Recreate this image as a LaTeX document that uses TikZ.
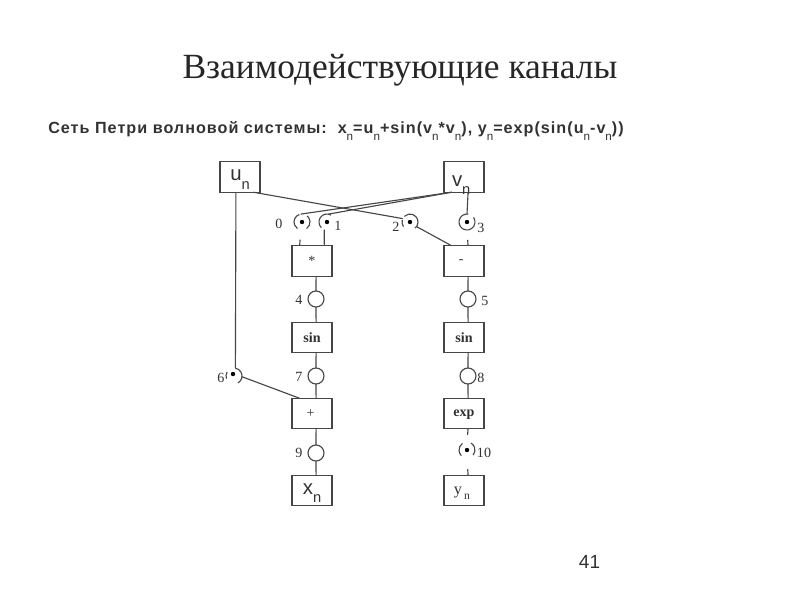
\documentclass[tikz,border=0pt]{standalone}
\usepackage{fontspec}
\setmainfont{Liberation Serif}
\setsansfont{Liberation Sans}
\newfontfamily\headfont[LetterSpace=6.2]{Liberation Sans}
\usetikzlibrary{positioning}
\newcommand{\subn}[1]{#1\raisebox{-.45em}{\scalebox{.72}{\mdseries n}}}
\newcommand{\boxsub}[3]{\raisebox{#1}[0pt][0pt]{#3\raisebox{#2}{\scalebox{.72}{n}}}}
\definecolor{netline}{RGB}{70,70,70}
\definecolor{nettext}{RGB}{50,50,50}
\begin{document}
\begin{tikzpicture}[
    x=0.025cm,
    y=0.025cm,
    box/.style={
        draw=netline,
        line width=0.8pt,
        fill=white,
        inner sep=0pt,
        outer sep=0pt,
        text=nettext,
        font=\fontsize{10}{11}\selectfont,
        minimum width=1cm,
        minimum height=0.76cm
    },
    sansbox/.style={
        box,
        font=\fontsize{14.5}{17}\sffamily
    },
    opbox/.style={
        box,
        font=\fontsize{10}{11}\selectfont\bfseries
    },
    place/.style={
        draw=netline,
        line width=0.8pt,
        circle,
        inner sep=0pt,
        outer sep=0pt,
        minimum size=0.4cm
    },
    marked/.style={
        place,
        draw=none
    },
    token/.style={
        circle,
        fill=black,
        inner sep=0pt,
        minimum size=0.11cm
    },
    num/.style={
        text=nettext,
        inner sep=0pt,
        font=\fontsize{10}{11}\selectfont
    },
    wire/.style={
        draw=netline,
        line width=0.8pt
    }
]
\useasboundingbox (0,0) rectangle (800,-600);

% HEADINGS
\node[font=\fontsize{25.2}{30}\selectfont, text=black!85] (title) at (400,-70)
{Взаимодействующие каналы};

\node[font=\fontsize{11.5}{14}\headfont\bfseries, text=nettext, anchor=west, inner sep=0pt] (formula) at (48,-131)
{Сеть Петри волновой системы:\ \ \subn{x}=\subn{u}+sin(\subn{v}*\subn{v}), \subn{y}=exp(sin(\subn{u}-\subn{v}))};

\node[font=\fontsize{13.5}{16}\sffamily, text=nettext] (page) at (589.5,-561.5)
{41};

% INPUTS
\node[sansbox] (un) at (240,-177) {\boxsub{-2.8pt}{-6pt}{u}};
\node[sansbox] (vn) at (464,-177) {\hspace{-4pt}\boxsub{-7pt}{-5.5pt}{v}};

% LEFT COLUMN
\node[box] (mul) at (312,-261) {*};
\node[opbox] (sinl) at (312,-337.5) {sin};
\node[box] (add) at (312,-413.5) {\hspace{-2pt}+};
\node[sansbox] (xn) at (312,-490.5) {\boxsub{-2.5pt}{-6pt}{x}};

% RIGHT COLUMN
\node[box] (minus) at (464,-261) {\raisebox{-3pt}{\hspace{-4pt}-}};
\node[opbox] (sinr) at (464,-337.5) {sin};
\node[opbox] (exp) at (464,-413.5) {\raisebox{-6pt}{exp}};
\node[box, font=\fontsize{11.5}{13}\selectfont] (yn) at (464,-490.5) {\hspace{-3pt}\boxsub{-3pt}{-3.5pt}{y\hspace{1.5pt}}};

% PLACES
\node[marked] (p0) at (302,-222) {};
\node[marked] (p1) at (327,-222) {};
\node[marked] (p2) at (410,-222) {};
\node[marked] (p3) at (467,-222) {};
\node[place] (p4) at (316,-299) {};
\node[place] (p5) at (468,-299) {};
\node[marked] (p6) at (234,-376) {};
\node[place] (p7) at (316,-376) {};
\node[place] (p8) at (468,-376) {};
\node[place] (p9) at (316,-453) {};
\node[marked] (p10) at (467,-450) {};

% TOKENS
\node[token] (t0) at (p0) {};
\node[token] (t1) at (p1) {};
\node[token] (t2) at (p2) {};
\node[token] (t3) at (p3) {};
\node[token] (t6) at (233,-374) {};
\node[token] (t10) at (p10) {};

% BROKEN RIMS OF THE MARKED PLACES
\draw[wire] (p0.110) arc[start angle=110, end angle=235, radius=8];
\draw[wire] (p0.-55) arc[start angle=-55, end angle=50, radius=8];
\draw[wire] (p1.60) arc[start angle=60, end angle=225, radius=8];
\draw[wire] (p2.-50) arc[start angle=-50, end angle=135, radius=8];
\draw[wire] (p2.165) arc[start angle=165, end angle=215, radius=8];
\draw[wire] (p3.80) arc[start angle=80, end angle=395, radius=8];
\draw[wire] (p6.-60) arc[start angle=-60, end angle=80, radius=8];
\draw[wire] (p6.150) arc[start angle=150, end angle=200, radius=8];
\draw[wire] (p10.125) arc[start angle=125, end angle=225, radius=8];
\draw[wire] (p10.-40) arc[start angle=-40, end angle=60, radius=8];

% LABELS
\node[num] (l0) at (279,-224) {0};
\node[num] (l1) at (338,-226) {1};
\node[num] (l2) at (396,-227) {2};
\node[num] (l3) at (481,-228) {3};
\node[num] (l4) at (299,-300) {4};
\node[num] (l5) at (485,-301) {5};
\node[num] (l6) at (221,-378) {6};
\node[num] (l7) at (299,-377) {7};
\node[num] (l8) at (481,-378) {8};
\node[num] (l9) at (299,-453) {9};
\node[num] (l10) at (484,-453) {10};

% CROSSING CONNECTORS
\draw[wire] (vn.231) -- (p0.100);
\draw[wire] (vn.231) -- (p1.80);
\draw[wire] (un.-49) -- (p2.155);
\draw[wire] (vn.-75) -- (p3.north);
\draw[wire] (un.-105) -- (p6.80);

% INTO THE OPERATIONS
\draw[wire, shorten <=7] (p0.-100) -- (mul.129);
\draw[wire] (p1.-110) -- (mul.51);
\draw[wire] (p2.-35) -- (minus.129);
\draw[wire, shorten <=7] (p3.south) -- (minus.75);
\draw[wire] (p6.-5) -- (add.129);

% LEFT CHAIN
\draw[wire] (mul.-75) -- (p4.north);
\draw[wire] (p4.south) -- (sinl.75);
\draw[wire] (sinl.-75) -- (p7.north);
\draw[wire] (p7.south) -- (add.75);
\draw[wire] (add.-75) -- (p9.north);
\draw[wire] (p9.south) -- (xn.75);

% RIGHT CHAIN
\draw[wire] (minus.-75) -- (p5.north);
\draw[wire] (p5.south) -- (sinr.75);
\draw[wire] (sinr.-75) -- (p8.north);
\draw[wire] (p8.south) -- (exp.75);
\draw[wire, shorten >=5] (exp.-75) -- (p10.north);
\draw[wire, shorten <=8] (p10.south) -- (yn.75);

\end{tikzpicture}
\end{document}
